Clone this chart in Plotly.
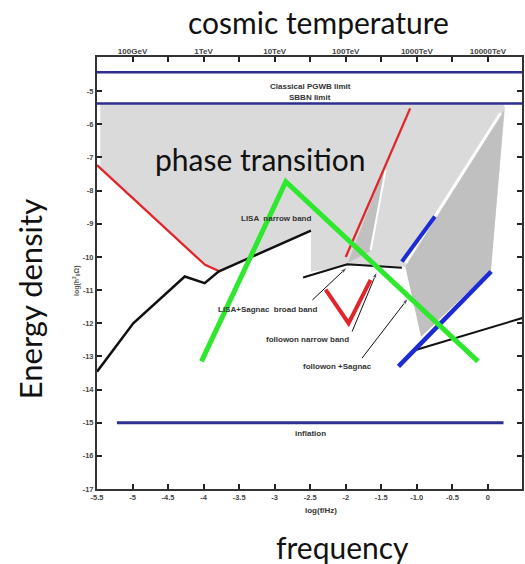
import plotly.graph_objects as go

# ---- axis ticks ----
freq_ticks = [-5.5, -5, -4.5, -4, -3.5, -3, -2.5, -2, -1.5, -1.0, -0.5, 0]
freq_tick_text = ["-5.5", "-5", "-4.5", "-4", "-3.5", "-3", "-2.5", "-2", "-1.5", "-1.0", "-0.5", "0"]
energy_ticks = [-5, -6, -7, -8, -9, -10, -11, -12, -13, -14, -15, -16, -17]
energy_tick_text = ["-5", "-6", "-7", "-8", "-9", "-10", "-11", "-12", "-13", "-14", "-15", "-16", "-17"]
temp_ticks = [-5, -4, -3, -2, -1, 0]
temp_tick_text = ["100GeV", "1TeV", "10TeV", "100TeV", "1000TeV", "10000TeV"]

# ---- limits ----
pgwb_x = [-5.5, 0.48]
pgwb_y = [-4.43, -4.43]
sbbn_x = [-5.5, 0.48]
sbbn_y = [-5.37, -5.37]
inflation_x = [-5.22, 0.22]
inflation_y = [-15.0, -15.0]

# ---- excluded / accessible regions ----
region_x = [-5.454, 0.224, 0.24, 0.043, -0.936, -1.16, -1.97, -2.49, -2.49, -3.79, -3.98, -5.454]
region_y = [-5.40, -5.40, -5.51, -10.39, -12.41, -10.30, -10.27, -10.45, -9.22, -10.44, -10.24, -7.32]
followon_region_x = [0.23, 0.043, -0.94, -1.16]
followon_region_y = [-5.57, -10.39, -12.41, -10.30]
sliver_x = [-1.97, -1.443, -1.65]
sliver_y = [-10.18, -7.23, -9.82]
gap1_x = [0.18, -1.16]
gap1_y = [-5.66, -10.18]
gap2_x = [-1.44, -1.65]
gap2_y = [-7.38, -9.80]

# ---- curves ----
red_upper_x = [-5.5, -3.98, -3.77]
red_upper_y = [-7.23, -10.24, -10.44]
red_rise_x = [-2.0, -1.094]
red_rise_y = [-10.0, -5.52]
red_v_x = [-2.283, -1.96, -1.65]
red_v_y = [-10.99, -12.0, -10.69]
lisa_x = [-5.5, -5.27, -4.99, -4.265, -3.985, -3.79, -2.49]
lisa_y = [-13.46, -12.80, -12.0, -10.59, -10.79, -10.44, -9.21]
broad_x = [-2.60, -1.98, -1.21]
broad_y = [-10.62, -10.22, -10.33]
sagnac_black_x = [-1.006, 0.49]
sagnac_black_y = [-12.80, -11.84]
blue_upper_x = [-1.21, -0.745]
blue_upper_y = [-10.14, -8.78]
blue_lower_x = [-1.258, 0.047]
blue_lower_y = [-13.30, -10.44]
phase_x = [-4.03, -2.843, -0.139]
phase_y = [-13.15, -7.73, -13.15]

# ---- label pointers: (start x, start y, tip x, tip y) ----
pointer_broad = [-2.47, -11.3, -1.98, -10.31]
pointer_narrow = [-1.91, -12.25, -1.56, -10.44]
pointer_sagnac = [-1.77, -13.05, -1.12, -11.24]

NAVY = "#2b2f8f"
BLUE = "#1d2bd6"
RED = "#e0262b"
GREEN = "#2ee82e"
BLACK = "#111111"
LIGHT_GRAY = "#dadada"
DARK_GRAY = "#c0c0c0"

fig = go.Figure()


def fill(xs, ys, color):
    fig.add_trace(go.Scatter(x=xs, y=ys, fill="toself", fillcolor=color, mode="none",
                             hoverinfo="skip", showlegend=False))


def line(xs, ys, color, width):
    fig.add_trace(go.Scatter(x=xs, y=ys, mode="lines", line=dict(color=color, width=width),
                             hoverinfo="skip", showlegend=False))


def pointer(p):
    fig.add_trace(go.Scatter(x=[p[0], p[2]], y=[p[1], p[3]], mode="lines+markers",
                             line=dict(color=BLACK, width=1),
                             marker=dict(symbol="arrow", angleref="previous", size=[0, 7],
                                         color=BLACK),
                             hoverinfo="skip", showlegend=False))


fill(region_x, region_y, LIGHT_GRAY)
fill(followon_region_x, followon_region_y, DARK_GRAY)
fill(sliver_x, sliver_y, DARK_GRAY)
line(gap1_x, gap1_y, "white", 3)
line(gap2_x, gap2_y, "white", 2)

line(pgwb_x, pgwb_y, NAVY, 2.5)
line(sbbn_x, sbbn_y, NAVY, 2.5)
line(inflation_x, inflation_y, NAVY, 3)

line(red_upper_x, red_upper_y, RED, 2.3)
line(red_rise_x, red_rise_y, RED, 2.3)
line(red_v_x, red_v_y, RED, 4)
line(lisa_x, lisa_y, BLACK, 2.5)
line(broad_x, broad_y, BLACK, 2)
line(sagnac_black_x, sagnac_black_y, BLACK, 2)
line(blue_upper_x, blue_upper_y, BLUE, 4)
line(blue_lower_x, blue_lower_y, BLUE, 4.5)
pointer(pointer_broad)
pointer(pointer_narrow)
pointer(pointer_sagnac)
line(phase_x, phase_y, GREEN, 5)

# top axis trace (invisible) so the temperature axis is drawn
fig.add_trace(go.Scatter(x=[-5.5, 0.48], y=[-17, -17], xaxis="x2", mode="none",
                         hoverinfo="skip", showlegend=False))

small = dict(family="Liberation Sans, Arial, sans-serif", size=8, color="#333333")
big = dict(family="Lato, 'Open Sans', sans-serif", size=30, color="#111111")

annotations = [
    dict(x=-2.5, y=-4.85, text="<b>Classical PGWB limit</b>", showarrow=False, font=small),
    dict(x=-2.5, y=-5.2, text="<b>SBBN limit</b>", showarrow=False, font=small),
    dict(x=-2.49, y=-15.32, text="<b>inflation</b>", showarrow=False, font=small),
    dict(x=-2.98, y=-8.83, text="<b>LISA  narrow band</b>", showarrow=False, font=small),
    dict(x=-3.1, y=-11.58, text="<b>LISA+Sagnac  broad band</b>", showarrow=False, font=small),
    dict(x=-2.54, y=-12.5, text="<b>followon narrow band</b>", showarrow=False, font=small),
    dict(x=-2.12, y=-13.3, text="<b>followon +Sagnac</b>", showarrow=False, font=small),
    dict(x=-3.2, y=-7.05, text="phase transition", showarrow=False, font=big),
    dict(xref="x", yref="paper", x=-2.35, y=-0.065, text="<b>log(f/Hz)</b>", showarrow=False,
         font=dict(family="Liberation Sans, Arial, sans-serif", size=8, color="#333333")),
    dict(xref="paper", yref="y", x=-0.065, y=-10.7, text="<b>log(h<sup>2</sup><sub>0</sub>Ω)</b>",
         showarrow=False, textangle=-90,
         font=dict(family="Liberation Sans, Arial, sans-serif", size=7, color="#555555")),
    dict(xref="paper", yref="paper", x=0.52, y=1.082, text="cosmic temperature", showarrow=False,
         font=big, xanchor="center", yanchor="middle"),
    dict(xref="paper", yref="paper", x=0.578, y=-0.135, text="frequency", showarrow=False,
         font=big, xanchor="center", yanchor="middle"),
    dict(xref="paper", yref="paper", x=-0.157, y=0.44, text="Energy density", showarrow=False,
         textangle=-90, font=dict(family="Lato, 'Open Sans', sans-serif", size=31, color="#111111"),
         xanchor="center", yanchor="middle"),
]

tickfont = dict(family="Liberation Sans, Arial, sans-serif", size=7.5, color="#444444")
bold = lambda labels: [f"<b>{t}</b>" for t in labels]

fig.update_layout(
    width=525, height=564,
    margin=dict(l=97, r=1, t=57, b=75),
    paper_bgcolor="white", plot_bgcolor="white",
    annotations=annotations,
    xaxis=dict(range=[-5.5, 0.48], tickvals=freq_ticks, ticktext=bold(freq_tick_text),
               ticks="inside", ticklen=5, tickwidth=2, tickcolor="#222",
               showline=True, linecolor="#333", linewidth=2, mirror=True,
               showgrid=False, zeroline=False, tickfont=tickfont, ticklabelstandoff=0),
    xaxis2=dict(range=[-5.5, 0.48], overlaying="x", side="top", tickvals=temp_ticks,
                ticktext=bold(temp_tick_text), ticks="inside", ticklen=5, tickwidth=2,
                tickcolor="#222", showline=False, showgrid=False, zeroline=False,
                tickfont=dict(family="Liberation Sans, Arial, sans-serif", size=8,
                              color="#444444"),
                minor=dict(tick0=-5.5, dtick=0.5, ticks="inside", ticklen=5, tickwidth=2,
                           tickcolor="#222", showgrid=False)),
    yaxis=dict(range=[-17, -3.97], tickvals=energy_ticks, ticktext=bold(energy_tick_text),
               ticks="inside", ticklen=5, tickwidth=2, tickcolor="#222",
               showline=True, linecolor="#333", linewidth=2, mirror="ticks",
               showgrid=False, zeroline=False, tickfont=tickfont),
)

fig.write_html("out.html")
